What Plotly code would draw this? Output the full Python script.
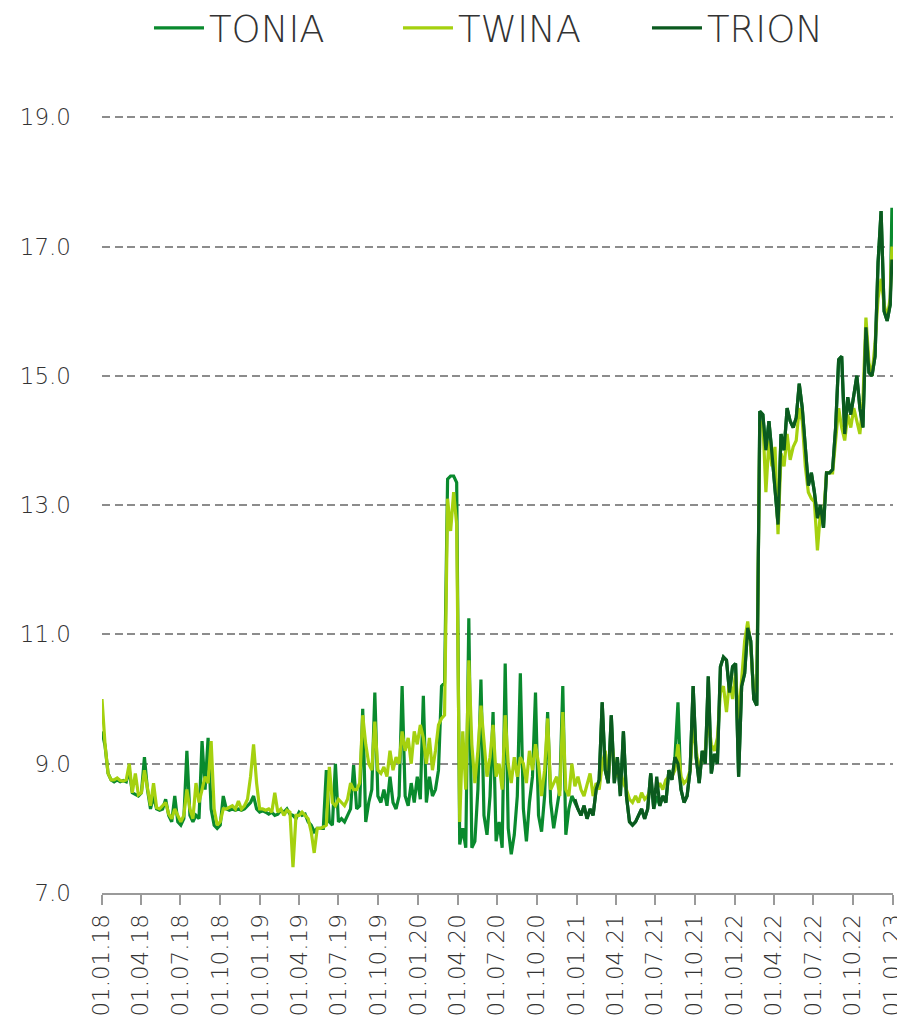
import pandas as pd
import plotly.graph_objects as go

# Weekly observations from 01.01.2018, plus a closing value on 30.12.2022
week_dates = list(pd.date_range("2018-01-01", periods=261, freq="7D")) + [pd.Timestamp("2022-12-30")]

tonia = [
    9.5, 9.28, 8.85, 8.75, 8.72, 8.75, 8.72, 8.74, 8.72, 8.9,
    8.55, 8.52, 8.5, 8.55, 9.1, 8.6, 8.3, 8.5, 8.3, 8.28,
    8.3, 8.45, 8.2, 8.1, 8.5, 8.1, 8.05, 8.15, 9.2, 8.2,
    8.1, 8.2, 8.15, 9.35, 8.6, 9.4, 8.3, 8.05, 8.0, 8.05,
    8.5, 8.3, 8.28, 8.3, 8.28, 8.3, 8.28, 8.3, 8.35, 8.4,
    8.5, 8.3, 8.25, 8.27, 8.25, 8.22, 8.25, 8.2, 8.22, 8.28,
    8.25, 8.3, 8.22, 8.2, 8.15, 8.25, 8.2, 8.22, 8.1, 8.05,
    7.95, 8.0, 8.0, 8.0, 8.9, 8.1, 8.05, 9.0, 8.1, 8.15,
    8.1, 8.2, 8.3, 8.98, 8.3, 8.35, 9.85, 8.1, 8.4, 8.6,
    10.1, 8.5, 8.4, 8.6, 8.35, 8.8, 8.4, 8.3, 8.5, 10.2,
    8.5, 8.35, 8.7, 8.4, 8.8, 8.45, 10.05, 8.4, 8.8, 8.5,
    8.6, 8.9, 10.2, 10.25, 13.4, 13.45, 13.45, 13.35, 7.75, 8.0,
    7.7, 11.25, 7.7, 7.8, 8.6, 10.3, 8.2, 7.9, 8.5, 9.8,
    7.8, 8.1, 7.7, 10.55, 8.0, 7.6, 7.9, 8.5, 10.4, 8.3,
    7.8, 8.4, 8.8, 10.1, 8.2, 7.95, 8.5, 9.8, 8.4, 8.0,
    8.3, 8.6, 10.2, 7.9, 8.3, 8.5, 8.4, 8.3, 8.2, 8.35,
    8.15, 8.3, 8.2, 8.6, 8.75, 9.95, 8.9, 8.7, 9.75, 8.7,
    9.1, 8.5, 9.5, 8.5, 8.1, 8.05, 8.1, 8.2, 8.3, 8.15,
    8.3, 8.85, 8.3, 8.5, 8.35, 8.5, 8.4, 8.9, 8.75, 9.1,
    9.95, 8.6, 8.4, 8.5, 8.9, 10.2, 9.1, 8.7, 9.2, 9.0,
    10.35, 8.85, 9.15, 9.0, 10.5, 10.65, 10.6, 10.1, 10.5, 10.55,
    8.8, 10.2, 10.4, 11.1, 10.9, 10.0, 9.9, 14.45, 14.4, 13.85,
    14.3, 13.8, 13.3, 12.7, 14.1, 13.85, 14.5, 14.3, 14.2, 14.35,
    14.88, 14.5, 13.9, 13.3, 13.5, 13.2, 12.8, 13.0, 12.65, 13.5,
    13.5, 13.55, 14.2, 15.25, 15.3, 14.1, 14.67, 14.4, 14.7, 15.0,
    14.5, 14.2, 15.75, 15.05, 15.0, 15.3, 16.75, 17.55, 16.0, 15.85,
    16.1, 17.6,
]

twina = [
    10.0, 9.3, 8.85, 8.75, 8.75, 8.78, 8.74, 8.73, 8.75, 9.0,
    8.55, 8.85, 8.52, 8.55, 8.9, 8.6, 8.35, 8.7, 8.32, 8.3,
    8.35, 8.4, 8.22, 8.15, 8.3, 8.2, 8.1, 8.2, 8.6, 8.3,
    8.15, 8.7, 8.4, 8.6, 8.8, 8.7, 9.35, 8.3, 8.05, 8.1,
    8.3, 8.3, 8.32, 8.35, 8.3, 8.42, 8.3, 8.35, 8.45, 8.8,
    9.3, 8.7, 8.3, 8.3, 8.28, 8.3, 8.25, 8.55, 8.25, 8.3,
    8.2, 8.28, 8.25, 7.4, 8.2, 8.2, 8.25, 8.2, 8.15, 7.95,
    7.62, 8.0, 8.0, 8.02, 8.05, 8.95, 8.4, 8.35, 8.45, 8.4,
    8.35, 8.45, 8.7, 8.6, 8.6, 8.7, 9.75, 9.3, 9.0, 8.9,
    9.65, 8.9, 8.85, 8.95, 8.8, 9.2, 8.9, 9.1, 9.0, 9.5,
    9.2, 9.4, 9.0, 9.5, 9.3, 9.6, 9.4, 9.0, 9.4, 8.9,
    9.2, 9.6, 9.7, 9.75, 13.1, 12.6, 13.2, 12.7, 8.1, 9.5,
    8.6, 10.6, 9.3, 8.7, 9.2, 9.9, 9.3, 8.8, 9.1, 9.6,
    8.8, 9.0, 8.6, 9.75, 9.0, 8.7, 9.1, 8.8, 9.1, 9.0,
    8.7, 9.2, 8.9, 9.3, 9.0, 8.5, 8.9, 9.7, 8.6, 8.7,
    8.8, 8.5, 9.8, 8.6, 8.5, 9.0, 8.65, 8.8, 8.6, 8.5,
    8.7, 8.85, 8.5, 8.7, 8.6, 9.0, 9.2, 8.8, 9.4, 9.0,
    8.8, 8.9, 8.7, 8.6, 8.45, 8.4, 8.5, 8.4, 8.55, 8.45,
    8.5, 8.6, 8.55, 8.6, 8.7, 8.6, 8.75, 8.8, 8.8, 8.9,
    9.3, 8.8, 8.7, 8.75, 8.9, 9.6, 9.2, 8.9, 9.1, 9.2,
    9.7, 9.3, 9.2, 9.4, 10.1, 10.2, 9.8, 10.3, 10.0, 10.4,
    9.7, 10.3, 10.9, 11.2, 10.8, 10.1, 10.2, 14.2, 14.3, 13.2,
    14.0, 13.6, 13.9, 12.55, 13.8, 13.6, 14.1, 13.7, 13.9, 14.0,
    14.5, 14.3, 13.6, 13.2, 13.1, 13.05, 12.3, 12.9, 12.8, 13.5,
    13.5, 13.5, 14.0, 14.5, 14.2, 14.0, 14.4, 14.2, 14.5, 14.3,
    14.1, 14.6, 15.9, 15.2, 15.0, 15.5, 16.2, 16.5, 16.1, 15.9,
    16.2, 17.0,
]

# TRION is published from the last week of 2020 onwards
trion_start = 156
trion = [
    8.45, 8.3, 8.2, 8.35, 8.15, 8.3, 8.2, 8.6, 8.75, 9.95,
    8.9, 8.7, 9.75, 8.7, 9.1, 8.5, 9.5, 8.5, 8.1, 8.05,
    8.1, 8.2, 8.3, 8.15, 8.3, 8.85, 8.3, 8.8, 8.35, 8.5,
    8.4, 8.9, 8.75, 9.1, 9.0, 8.6, 8.4, 8.5, 8.9, 10.2,
    9.1, 8.7, 9.2, 9.0, 10.35, 8.85, 9.15, 9.0, 10.5, 10.65,
    10.6, 10.1, 10.5, 10.55, 8.8, 10.2, 10.4, 11.1, 10.9, 10.0,
    9.9, 14.45, 14.4, 13.85, 14.3, 13.8, 13.3, 12.7, 14.1, 13.85,
    14.5, 14.3, 14.2, 14.35, 14.88, 14.5, 13.9, 13.3, 13.5, 13.2,
    12.8, 13.0, 12.65, 13.5, 13.5, 13.55, 14.2, 15.25, 15.3, 14.1,
    14.67, 14.4, 14.7, 15.0, 14.5, 14.2, 15.75, 15.05, 15.0, 15.3,
    16.75, 17.55, 16.0, 15.85, 16.1, 16.8,
]

series_names = ["TONIA", "TWINA", "TRION"]
series_colors = ["#0A8A2E", "#A5D10F", "#0B5A1F"]

y_ticks = [7.0, 9.0, 11.0, 13.0, 15.0, 17.0, 19.0]
x_ticks = pd.date_range("2018-01-01", "2023-01-01", freq="QS")
x_tick_text = [d.strftime("%d.%m.%y") for d in x_ticks]

font_family = "DejaVu Sans"
font_weight = 200
text_color = "#333333"

fig = go.Figure()
for name, color, xs, ys in zip(
    series_names,
    series_colors,
    [week_dates, week_dates, week_dates[trion_start:]],
    [tonia, twina, trion],
):
    fig.add_trace(go.Scatter(
        x=xs, y=ys, name=name, mode="lines",
        line=dict(color=color, width=3.2),
    ))

fig.update_layout(
    width=897, height=1021,
    margin=dict(l=102, r=4, t=114, b=128, autoexpand=False),
    paper_bgcolor="white", plot_bgcolor="white",
    font=dict(family=font_family, color=text_color, weight=font_weight),
    showlegend=True,
    legend=dict(
        orientation="h", x=0.0594, xanchor="left", y=1.11, yanchor="middle",
        font=dict(size=37, family=font_family, color=text_color, weight=font_weight),
        itemwidth=50,
        entrywidth=184, entrywidthmode="pixels",
        bgcolor="rgba(0,0,0,0)",
    ),
    xaxis=dict(
        type="date",
        range=["2018-01-01", "2023-01-01 12:00"],
        tickvals=list(x_ticks), ticktext=x_tick_text,
        tickangle=-90,
        ticks="outside", ticklen=10, tickwidth=2, tickcolor="#9a9a9a",
        showline=True, linecolor="#9a9a9a", linewidth=2,
        showgrid=False, zeroline=False,
        ticklabeloverflow="allow",
        tickfont=dict(size=23, family=font_family, color=text_color, weight=font_weight),
        automargin=False,
    ),
    yaxis=dict(
        range=[7, 19.05],
        tickvals=y_ticks, ticktext=[f"{v:.1f}" for v in y_ticks],
        showgrid=True, gridcolor="#8c8c8c", gridwidth=1.8, griddash="8px,4.5px",
        zeroline=False, showline=False, ticks="",
        ticklabelstandoff=30,
        tickfont=dict(size=23, family=font_family, color=text_color, weight=font_weight),
        automargin=False,
    ),
)

fig.write_html("out.html")
